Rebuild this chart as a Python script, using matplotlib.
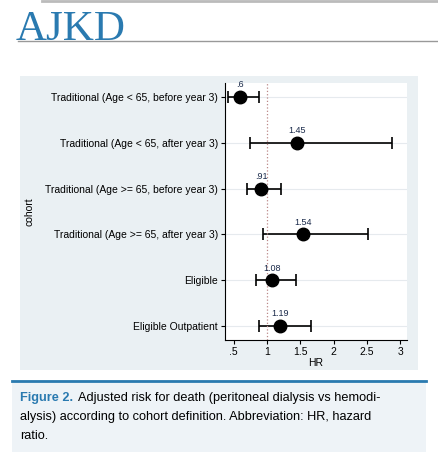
import matplotlib.pyplot as plt
from matplotlib.patches import Rectangle
from matplotlib.lines import Line2D

plt.rcParams['font.family'] = ['Liberation Sans', 'DejaVu Sans']

cohorts = ['Traditional (Age < 65, before year 3)',
           'Traditional (Age < 65, after year 3)',
           'Traditional (Age >= 65, before year 3)',
           'Traditional (Age >= 65, after year 3)',
           'Eligible',
           'Eligible Outpatient']
hr = [0.6, 1.45, 0.91, 1.54, 1.08, 1.19]
hr_labels = ['.6', '1.45', '.91', '1.54', '1.08', '1.19']
ci_low = [0.41, 0.75, 0.70, 0.94, 0.83, 0.88]
ci_high = [0.88, 2.87, 1.21, 2.51, 1.43, 1.66]
xticks = [0.5, 1, 1.5, 2, 2.5, 3]
xtick_labels = ['.5', '1', '1.5', '2', '2.5', '3']

W, H = 438, 455
fig = plt.figure(figsize=(W / 100, H / 100), dpi=100)

# header
fig.text(16 / W, 1 - 30 / H, 'AJKD', family='Liberation Serif', fontsize=31,
         color='#2a7ab0', va='center')
fig.add_artist(Line2D([18 / W, 1], [1 - 41 / H] * 2, color='#999999', lw=1))
fig.add_artist(Line2D([42 / W, 1], [1 - 1 / H] * 2, color='#bbbbbb', lw=2))

# plot panel background
fig.add_artist(Rectangle((20 / W, 1 - 370 / H), 398 / W, 294 / H,
                         facecolor='#eaf0f3', edgecolor='none', zorder=-5))

ax = fig.add_axes([225 / W, 1 - 340 / H, 182 / W, 257 / H])
ypos = list(range(len(cohorts)))[::-1]
for y, h, lo, hi, lab in zip(ypos, hr, ci_low, ci_high, hr_labels):
    ax.errorbar(h, y, xerr=[[h - lo], [hi - h]], fmt='o', color='black',
                ms=9, capsize=4, elinewidth=1.2, capthick=1.2)
    ax.text(h, y + 0.17, lab, ha='center', va='bottom', fontsize=6.5,
            color='#1a2a4a')
ax.axvline(1, color='#bb8888', ls=':', lw=0.9)
ax.set_yticks(ypos)
ax.set_yticklabels(cohorts, fontsize=7.5)
ax.set_xticks(xticks)
ax.set_xticklabels(xtick_labels, fontsize=7.5)
ax.set_xlim(0.37, 3.1)
ax.set_ylim(-0.3, 5.3)
ax.set_xlabel('HR', fontsize=7.5, labelpad=1)
ax.set_ylabel('cohort', fontsize=7.5, labelpad=8)
ax.grid(axis='y', color='#e6eaee', lw=0.8)
ax.tick_params(length=3, pad=2)
for s in ['top', 'right']:
    ax.spines[s].set_visible(False)
ax.set_facecolor('white')

# caption
fig.add_artist(Rectangle((12 / W, 1 - 452 / H), 414 / W, 72 / H,
                         facecolor='#eef3f7', edgecolor='none', zorder=-5))
fig.add_artist(Line2D([12 / W, 426 / W], [1 - 381 / H] * 2, color='#2a7ab0', lw=2))
fig.text(20 / W, 1 - 398 / H, 'Figure 2.', color='#2a7ab0', weight='bold',
         fontsize=9.2, va='center')
fig.text(78 / W, 1 - 398 / H, 'Adjusted risk for death (peritoneal dialysis vs hemodi-',
         fontsize=9.2, va='center')
fig.text(20 / W, 1 - 417 / H, 'alysis) according to cohort definition. Abbreviation: HR, hazard',
         fontsize=9.2, va='center')
fig.text(20 / W, 1 - 436 / H, 'ratio.', fontsize=9.2, va='center')

fig.savefig('out.png', dpi=100)
